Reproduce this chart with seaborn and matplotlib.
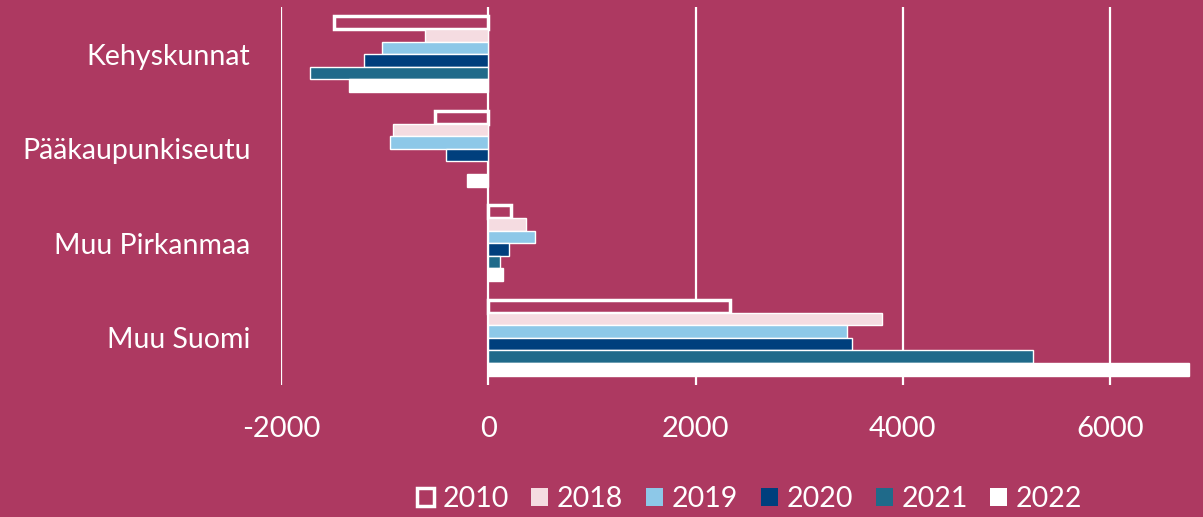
import matplotlib
matplotlib.use("Agg")
import matplotlib.pyplot as plt
import seaborn as sns
import pandas as pd
from matplotlib.patches import Patch

categories = ["Kehyskunnat", "Pääkaupunkiseutu", "Muu Pirkanmaa", "Muu Suomi"]
years = ["2010", "2018", "2019", "2020", "2021", "2022"]
v2010 = [-1485, -511, 222, 2334]
v2018 = [-608, -916, 367, 3800]
v2019 = [-1022, -945, 453, 3463]
v2020 = [-1196, -405, 203, 3511]
v2021 = [-1717, 0, 116, 5257]
v2022 = [-1341, -203, 145, 6762]
xticks = [-2000, 0, 2000, 4000, 6000]

bg = "#AD3961"
colors = ["#AD3961", "#F5DCE1", "#8DC8E8", "#003F7D", "#1F6A8A", "#FFFFFF"]

series = [v2010, v2018, v2019, v2020, v2021, v2022]
rows = []
for y, vals in zip(years, series):
    for c, v in zip(categories, vals):
        rows.append({"alue": c, "vuosi": y, "arvo": v})
df = pd.DataFrame(rows)

sns.set_theme(style="white")
plt.rcParams["font.family"] = ["Lato", "DejaVu Sans"]

fig = plt.figure(figsize=(12.03, 5.17), dpi=100, facecolor=bg)
ax = fig.add_axes([281 / 1203, 1 - 385 / 517, (1191 - 281) / 1203, (385 - 7) / 517])
ax.set_facecolor(bg)

sns.barplot(data=df, y="alue", x="arvo", hue="vuosi", order=categories,
            hue_order=years, palette=colors, orient="h", width=0.8,
            saturation=1, legend=False, ax=ax, zorder=3)

# 2010 bars as outlines
for p in ax.containers[0]:
    p.set_facecolor(bg)
    p.set_edgecolor("white")
    p.set_linewidth(2.5)

ax.set_xlim(-2000, 6780)
ax.set_xticks(xticks)
ax.set_xticklabels([str(t) for t in xticks])
ax.grid(axis="x", color="white", linewidth=1.6, zorder=0)
ax.grid(axis="y", visible=False)
ax.set_axisbelow(True)
for s in ax.spines.values():
    s.set_visible(False)
ax.set_xlabel("")
ax.set_ylabel("")
ax.tick_params(axis="x", colors="white", labelsize=21, length=0, pad=22)
ax.tick_params(axis="y", colors="white", labelsize=20.5, length=0, pad=22)

handles = []
for y, c in zip(years, colors):
    if y == "2010":
        handles.append(Patch(facecolor=bg, edgecolor="white", linewidth=2.5, label=y))
    else:
        handles.append(Patch(facecolor=c, edgecolor="none", label=y))
leg = fig.legend(handles=handles, loc="center", bbox_to_anchor=(0.623, 0.035), ncol=6,
                 frameon=False, fontsize=20.5, handlelength=0.6, handleheight=0.6,
                 handletextpad=0.3, columnspacing=0.8)
for t in leg.get_texts():
    t.set_color("white")

fig.savefig("out.png", dpi=100, facecolor=bg)
